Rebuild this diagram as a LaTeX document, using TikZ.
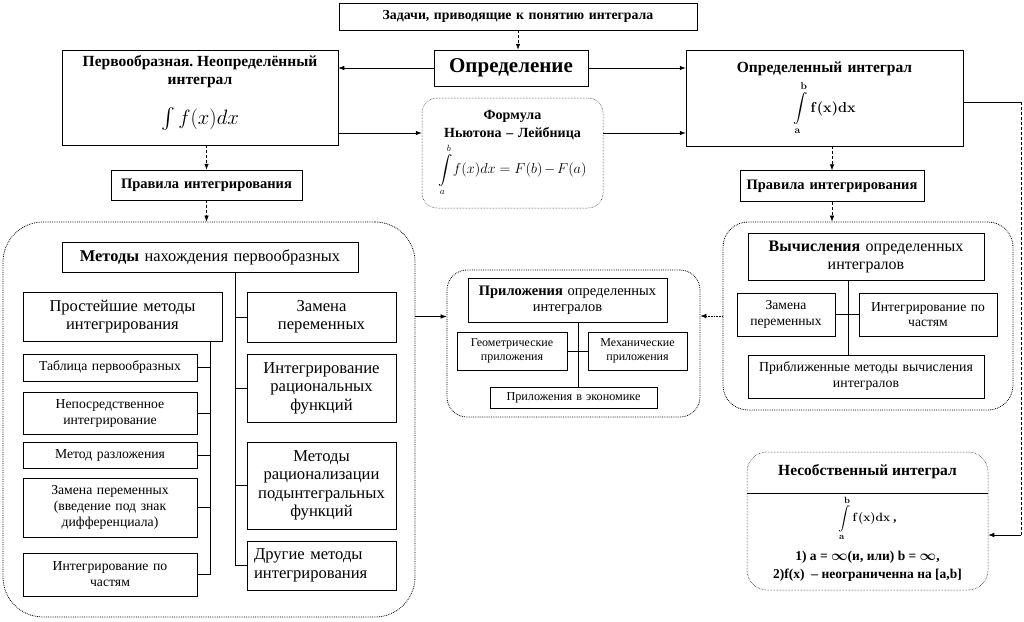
\documentclass[tikz,border=0pt]{standalone}
\usepackage{exscale}
\usepackage{fontspec}
\setmainfont{Liberation Serif}
\frenchspacing
\usetikzlibrary{arrows.meta}
\newcommand\fsz[2]{\fontsize{#1}{#2}\selectfont}
\tikzset{
  wh/.style 2 args={text width=#1pt, inner xsep=0pt, inner ysep=1pt, minimum height=#2pt},
  topbox/.style={draw, line width=0.5pt, align=center},
  inbox/.style={draw, line width=0.9pt, align=center},
  area/.style={draw, densely dotted, line width=0.8pt},
  link/.style={-{Latex[length=6pt,width=4.5pt]}, line width=0.6pt},
  dlink/.style={link, densely dashed},
  tree/.style={line width=1pt},
}

\begin{document}
\begin{tikzpicture}[x=1pt,y=-1pt]
	%%%%% START %%%%%
	\useasboundingbox (0,0) rectangle (1024,621);
	
	% top row
	\node[topbox, wh={358}{27}, font=\bfseries\fsz{13.8}{15}] (task) at (518,16.5) {Задачи, приводящие к понятию интеграла};
	\node[topbox, wh={154}{36}, font=\bfseries\fsz{21}{22}] (defin) at (511,68) {Определение};
	\node[topbox, wh={276}{95}] (indef) at (200,97.5) {};
	\node[align=center, font=\bfseries\fsz{15.5}{18}] (indefTitle) at (200,72) {Первообразная. Неопределённый\\интеграл};
	\node[font=\fsz{21}{23}, inner sep=0pt] (indefInt) at (200,119) {$\int f(x)dx$};
	\node[topbox, wh={277}{96}, font=\bfseries\fsz{15.5}{18}] (defint) at (824.5,98) {Определенный интеграл\\[5pt]{\fsz{14}{18}\boldmath$\displaystyle\int\limits_{\mathbf a}^{\mathbf b}\mathbf{f(x)dx}$}};
	\node[topbox, wh={181}{110}, rounded corners=15pt, densely dotted, font=\bfseries\fsz{14}{18}] (nl) at (512.5,153) {Формула\\Ньютона -- Лейбница\\[3pt]{\fsz{13.5}{18}$\displaystyle\int\limits_a^b\! f(x)dx\!=\!F(b)\!-\!F(a)$}};
	
	% rules
	\node[topbox, wh={191}{30}, font=\bfseries\fsz{14.5}{16}] (rulesL) at (206.5,185) {Правила интегрирования};
	\node[topbox, wh={184}{31}, font=\bfseries\fsz{14.5}{16}] (rulesR) at (832,186) {Правила интегрирования};
	
	% methods of antiderivatives
	\node[area, rounded corners=40pt, minimum width=412pt, minimum height=395pt] (methodsArea) at (209,419.5) {};
	\node[inbox, wh={296}{30}, font=\fsz{16.4}{18}] (metody) at (210,257) {\textbf{Методы} нахождения первообразных};
	\node[inbox, wh={199}{49}, font=\fsz{16.5}{18.5}] (prost) at (122.5,316.5) {Простейшие методы\\интегрирования};
	\node[inbox, wh={174}{27}, font=\fsz{13.7}{16}] (table) at (110,367.5) {Таблица первообразных};
	\node[inbox, wh={174}{42}, font=\fsz{13.7}{16}] (nepos) at (110,413) {Непосредственное\\интегрирование};
	\node[inbox, wh={174}{26}, font=\fsz{13.7}{16}] (razl) at (110,455) {Метод разложения};
	\node[inbox, wh={174}{59}, font=\fsz{13.7}{16}] (zamena1) at (110,507.5) {Замена переменных\\(введение под знак\\дифференциала)};
	\node[inbox, wh={174}{43}, font=\fsz{13.7}{16}] (parts1) at (110,574.5) {Интегрирование по\\частям};
	\node[inbox, wh={149}{50}, font=\fsz{16.6}{18.5}] (zam2) at (321.5,317) {Замена\\переменных};
	\node[inbox, wh={149}{68}, font=\fsz{16.6}{18.5}] (rac) at (321.5,388) {Интегрирование\\рациональных\\функций};
	\node[inbox, wh={149}{87}, font=\fsz{16.6}{18.5}] (ratz) at (321.5,485.5) {Методы\\рационализации\\подынтегральных\\функций};
	\node[inbox, text width=135pt, inner xsep=7pt, minimum height=49pt, align=left, font=\fsz{16.6}{18.5}] (other) at (321.5,565.5) {Другие методы\\интегрирования};
	
	\coordinate (spineA) at (235,0);
	\draw[tree] (metody.south -| spineA) -- (other.west -| spineA);
	\foreach \b in {zam2,rac,ratz,other}
		\draw[tree] (\b.west) -- (\b.west -| spineA);
	\coordinate (spineB) at (210,0);
	\draw[tree] (prost.south -| spineB) -- (parts1.east -| spineB);
	\foreach \b in {table,nepos,razl,zamena1,parts1}
		\draw[tree] (\b.east) -- (\b.east -| spineB);
	
	% applications
	\node[area, rounded corners=20pt, minimum width=253pt, minimum height=147pt] (appArea) at (573.5,343.5) {};
	\node[inbox, wh={199}{44}, font=\fsz{14.5}{16}] (appT) at (567.5,300) {\textbf{Приложения} определенных\\интегралов};
	\node[inbox, wh={110}{38}, font=\fsz{12}{14}] (geom) at (512,351) {Геометрические\\приложения};
	\node[inbox, wh={99}{38}, font=\fsz{12}{14}] (mech) at (637.5,351) {Механические\\приложения};
	\node[inbox, wh={167}{21}, font=\fsz{12.2}{13}] (econ) at (573.5,397.5) {Приложения в экономике};
	\coordinate (spineC) at (578,0);
	\draw[tree] (appT.south -| spineC) -- (econ.north -| spineC);
	\draw[tree] (geom.east) -- (mech.west);
	
	% computation of definite integrals
	\node[area, rounded corners=25pt, minimum width=290pt, minimum height=188pt] (calcArea) at (868,316) {};
	\node[inbox, wh={236}{47}, font=\fsz{16}{18}] (calcT) at (866,256.5) {\textbf{Вычисления} определенных\\интегралов};
	\node[inbox, wh={98}{43}, font=\fsz{13.6}{15.5}] (zam3) at (786,314.5) {Замена\\переменных};
	\node[inbox, wh={138}{43}, font=\fsz{13.6}{15.5}] (parts3) at (928,314.5) {Интегрирование по\\частям};
	\node[inbox, wh={236}{43}, font=\fsz{13.8}{16}] (approx) at (866,376.5) {Приближенные методы вычисления\\интегралов};
	\coordinate (spineD) at (848,0);
	\draw[tree] (calcT.south -| spineD) -- (approx.north -| spineD);
	\draw[tree] (zam3.east) -- (parts3.west);
	
	% improper integral
	\node[topbox, rounded corners=20pt, densely dotted, minimum width=241pt, minimum height=138pt] (improper) at (867.5,521) {};
	\node[font=\bfseries\fsz{15.5}{17}] (impTitle) at (867.5,472) {Несобственный интеграл};
	\node[font=\bfseries\boldmath\fsz{12.5}{16}] (impInt) at (867.5,518) {$\displaystyle\int\limits_{\mathbf a}^{\mathbf b}\mathbf{f(x)dx}$ ,};
	\node[align=center, font=\bfseries\boldmath\fsz{13.5}{18}] (impCond) at (867.5,566) {1) a = $\infty$(и, или) b = $\infty$,\\2)f(x) \ -- неограниченна на [a,b]};
	\coordinate (impCut) at (0,493);
	\draw[line width=0.5pt] (improper.west |- impCut) -- (improper.east |- impCut);
	
	% connectors
	\draw[dlink] (task.south) -- (task.south |- defin.north);
	\draw[link] (defin.west) -- (defin.west -| indef.east);
	\draw[link] (defin.east) -- (defin.east -| defint.west);
	\draw[link] ([yshift=20pt]nl.west -| indef.east) -- ([yshift=20pt]nl.west);
	\draw[link] ([yshift=20pt]nl.east) -- ([yshift=20pt]nl.east -| defint.west);
	\draw[dlink] (rulesL.north |- indef.south) -- (rulesL.north);
	\draw[dlink] (rulesL.south) -- (rulesL.south |- methodsArea.north);
	\draw[dlink] (rulesR.north |- defint.south) -- (rulesR.north);
	\draw[dlink] (rulesR.south) -- (rulesR.south |- calcArea.north);
	\draw[link] ([yshift=27pt]appArea.west -| methodsArea.east) -- ([yshift=27pt]appArea.west);
	\draw[link, densely dotted] (calcArea.west) -- (calcArea.west -| appArea.east);
	\coordinate (turnA) at (1021,102);
	\coordinate (turnB) at (1021,535);
	\draw[line width=0.6pt] (defint.east |- turnA) -- (turnA);
	\draw[line width=0.6pt, densely dashed] (turnA) -- (turnB);
	\draw[link] (turnB) -- (turnB -| improper.east);
	%%%%% END %%%%%
\end{tikzpicture}
\end{document}
